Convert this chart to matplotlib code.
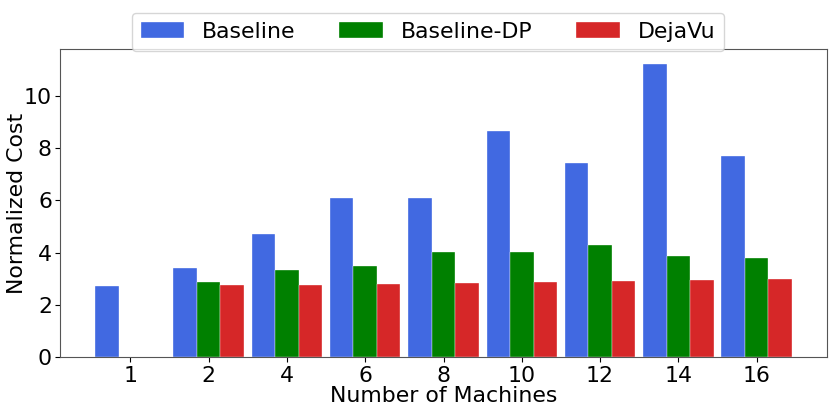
import matplotlib
matplotlib.use("Agg")
import matplotlib.pyplot as plt
import numpy as np

machines = ["1", "2", "4", "6", "8", "10", "12", "14", "16"]
baseline = [2.73, 3.41, 4.72, 6.09, 6.09, 8.63, 7.44, 11.21, 7.71]
baseline_dp = [0, 2.86, 3.33, 3.47, 4.01, 4.01, 4.29, 3.87, 3.80]
dejavu = [0, 2.77, 2.78, 2.81, 2.84, 2.89, 2.92, 2.95, 2.98]

fs = 15.8
fig = plt.figure(figsize=(8.31, 4.12), dpi=100)
ax = fig.add_axes([0.0726, 0.1328, 0.9222, 0.7475])

x = np.arange(len(machines))
w = 0.3
ax.bar(x - w, baseline, width=w, color="royalblue", edgecolor="white", linewidth=0.25, label="Baseline")
ax.bar(x, baseline_dp, width=w, color="green", edgecolor="white", linewidth=0.25, label="Baseline-DP")
ax.bar(x + w, dejavu, width=w, color="#d62728", edgecolor="white", linewidth=0.25, label="DejaVu")

ax.set_xticks(x)
ax.set_xticklabels(machines)
ax.tick_params(labelsize=fs, pad=2.5)
ax.set_xlabel("Number of Machines", fontsize=fs, labelpad=0)
ax.set_ylabel("Normalized Cost", fontsize=fs)
ax.yaxis.set_label_coords(-0.044, 0.5)
for s in ax.spines.values():
    s.set_color("#555555")

ax.legend(loc="upper center", bbox_to_anchor=(0.515, 0.995), bbox_transform=fig.transFigure,
          ncol=3, fontsize=fs, columnspacing=2.0)

fig.savefig("out.png", dpi=100)
